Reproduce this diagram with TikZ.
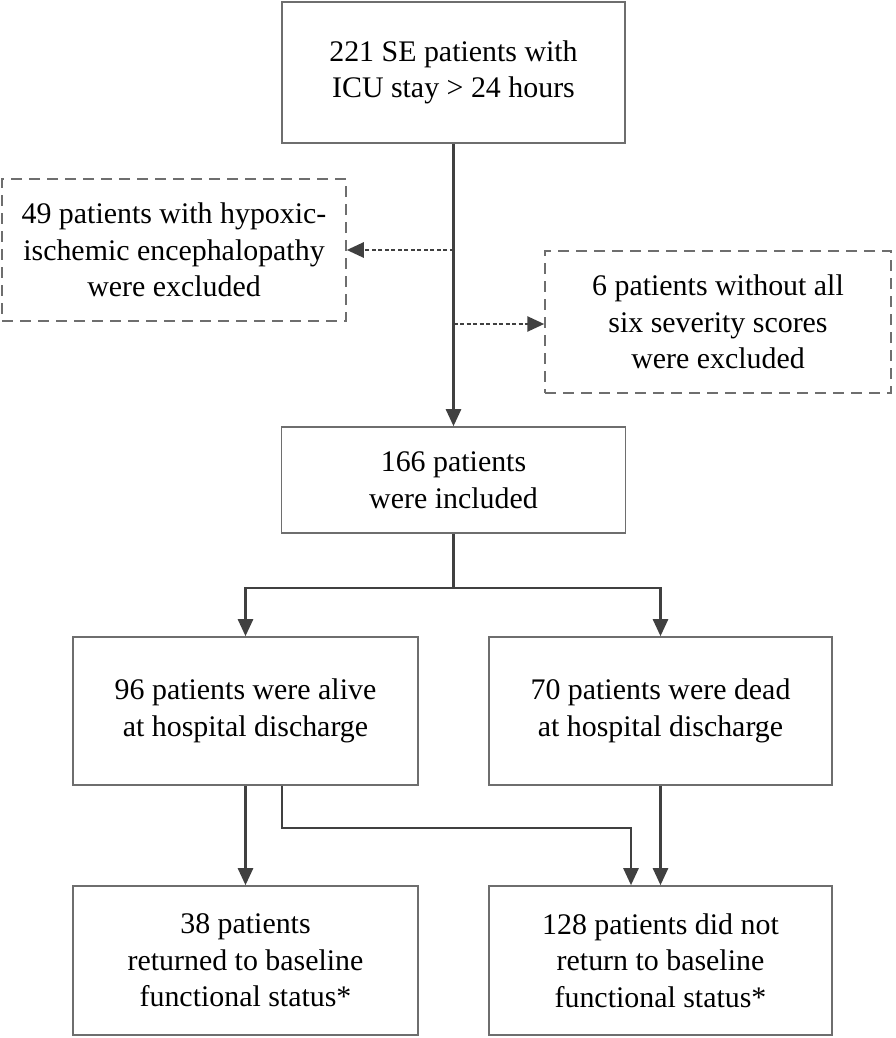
\documentclass[tikz,border=0pt]{standalone}
\usepackage{fontspec}
\setmainfont{Liberation Serif}
\usetikzlibrary{arrows.meta}
\definecolor{boxgray}{RGB}{110,110,110}
\definecolor{arrgray}{RGB}{64,64,64}
\tikzset{
  every node/.style={font=\fontsize{29.9}{36.5}\selectfont, align=center, inner sep=0pt},
  box/.style={draw=boxgray, line width=1.6pt, rectangle},
  dbox/.style={draw=boxgray, line width=1.5pt, rectangle, dash pattern=on 11pt off 7pt},
  conn/.style={draw=arrgray, line width=2.6pt},
  arr/.style={conn, -{Triangle[length=17pt,width=15pt]}},
  dotarr/.style={draw=arrgray, line width=2.6pt, dash pattern=on 4pt off 2.5pt, -{Triangle[length=17pt,width=15pt]}}
}
\begin{document}
\begin{tikzpicture}[x=1pt,y=1pt]
\useasboundingbox (0,0) rectangle (896,-1038);
\node[box, minimum width=343, minimum height=141] (top) at (453.5,-72.5) {221 SE patients with\\ICU stay > 24 hours};
\node[dbox, minimum width=344, minimum height=142] (excl1) at (174,-250) {49 patients with hypoxic-\\ischemic encephalopathy\\were excluded};
\node[dbox, minimum width=346, minimum height=142] (excl2) at (718,-322) {6 patients without all\\six severity scores\\were excluded};
\node[box, minimum width=344, minimum height=106] (mid) at (453.5,-480) {166 patients\\were included};
\node[box, minimum width=345, minimum height=148] (alive) at (245.5,-711) {96 patients were alive\\at hospital discharge};
\node[box, minimum width=343, minimum height=148] (dead) at (660.5,-711) {70 patients were dead\\at hospital discharge};
\node[box, minimum width=345, minimum height=149] (ret) at (245.5,-960.5) {38 patients\\returned to baseline\\functional status*};
\node[box, minimum width=343, minimum height=149] (notret) at (660.5,-960.5) {128 patients did not\\return to baseline\\functional status*};
\coordinate (br) at (453.5,-588);
\coordinate (el) at (282,-828);
\draw[arr] (top.south) -- (mid.north);
\draw[dotarr] (excl1.east -| top.south) -- (excl1.east);
\draw[dotarr] ([yshift=-2pt]excl2.west -| top.south) -- ([yshift=-2pt]excl2.west);
\draw[conn] (mid.south) -- (br);
\draw[arr] (br) -| (alive.north);
\draw[arr] (br) -| (dead.north);
\draw[arr] (alive.south) -- (ret.north);
\draw[arr] (alive.south -| el) -- (el) -| ([xshift=-29.5pt]notret.north);
\draw[arr] (dead.south) -- (notret.north);
\end{tikzpicture}
\end{document}
